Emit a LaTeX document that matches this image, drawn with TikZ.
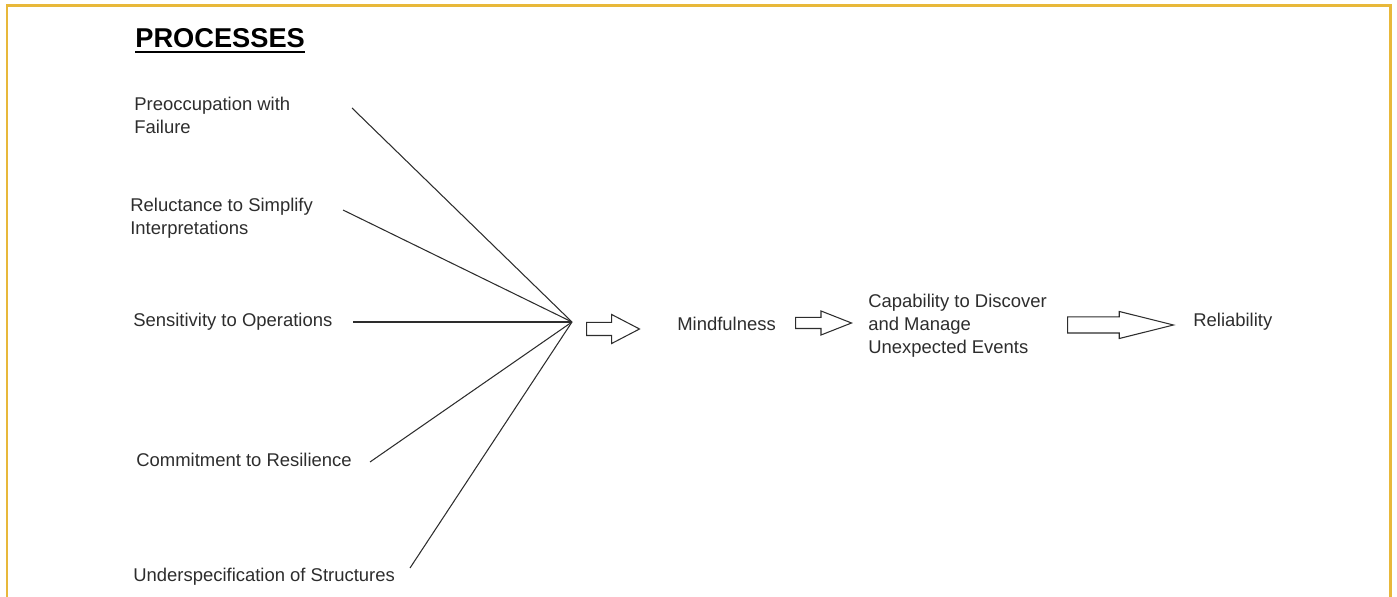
\documentclass[tikz,border=0pt]{standalone}
\usepackage{fontspec}
\setmainfont{Liberation Sans}
\usepackage{tikz}
\usetikzlibrary{shapes.arrows}
\definecolor{frame}{RGB}{232,184,58}
\definecolor{ink}{RGB}{45,45,45}
\tikzstyle{factor} = [anchor=west, inner sep=0pt, align=left, text=ink, font=\fontsize{10.5}{13}\selectfont]
\tikzstyle{heading} = [anchor=west, inner sep=0pt, text=black, font=\fontsize{15.5}{18}\selectfont\bfseries]
\tikzstyle{spoke} = [draw=ink, line width=0.6pt]
\tikzstyle{blockarrow} = [single arrow, draw=ink, line width=0.6pt, anchor=tail, inner xsep=0pt]

\begin{document}
\begin{tikzpicture}[x=0.02cm, y=-0.02cm]
\useasboundingbox (0,0) rectangle (1397,597);
\draw [frame, line width=1.7pt] (7,597) -- (7,6) -- (1390,6) -- (1390,597);
\node (title) [heading] at (135,38) {PROCESSES};
\draw [black, line width=1.2pt] ([yshift=-2.5pt]title.south west) -- ([yshift=-2.5pt]title.south east);
% the five processes
\node (pre) [factor] at (134,115) {Preoccupation with\\Failure};
\node (rel) [factor] at (130,218) {Reluctance to Simplify\\Interpretations};
\node (sens) [factor] at (133,322) {Sensitivity to Operations};
\node (comm) [factor] at (136,460) {Commitment to Resilience};
\node (under) [factor] at (133,577) {Underspecification of Structures};
\coordinate (hub) at (572,322);
\coordinate (s1) at (352,108);
\coordinate (s2) at (343,210);
\coordinate (s3) at (353,322);
\coordinate (s4) at (370,462);
\coordinate (s5) at (410,568);
\draw [spoke] (s1) -- (hub);
\draw [spoke] (s2) -- (hub);
\draw [spoke] (s3) -- (hub);
\draw [spoke] (s4) -- (hub);
\draw [spoke] (s5) -- (hub);
% outcome chain
\node (arr1) [blockarrow, minimum height=1.06cm, inner ysep=0.12cm, single arrow head extend=0.16cm, single arrow tip angle=55] at (586,329) {};
\node (mind) [factor] at (677,324) {Mindfulness};
\node (arr2) [blockarrow, minimum height=1.12cm, inner ysep=0.1cm, single arrow head extend=0.13cm, single arrow tip angle=43] at (795,323) {};
\node (cap) [factor] at (868,326) {Capability to Discover\\and Manage\\Unexpected Events};
\node (arr3) [blockarrow, minimum height=2.12cm, inner ysep=0.15cm, single arrow head extend=0.11cm, single arrow tip angle=28] at (1067,325) {};
\node (reli) [factor] at (1193,322) {Reliability};
\end{tikzpicture}
\end{document}
